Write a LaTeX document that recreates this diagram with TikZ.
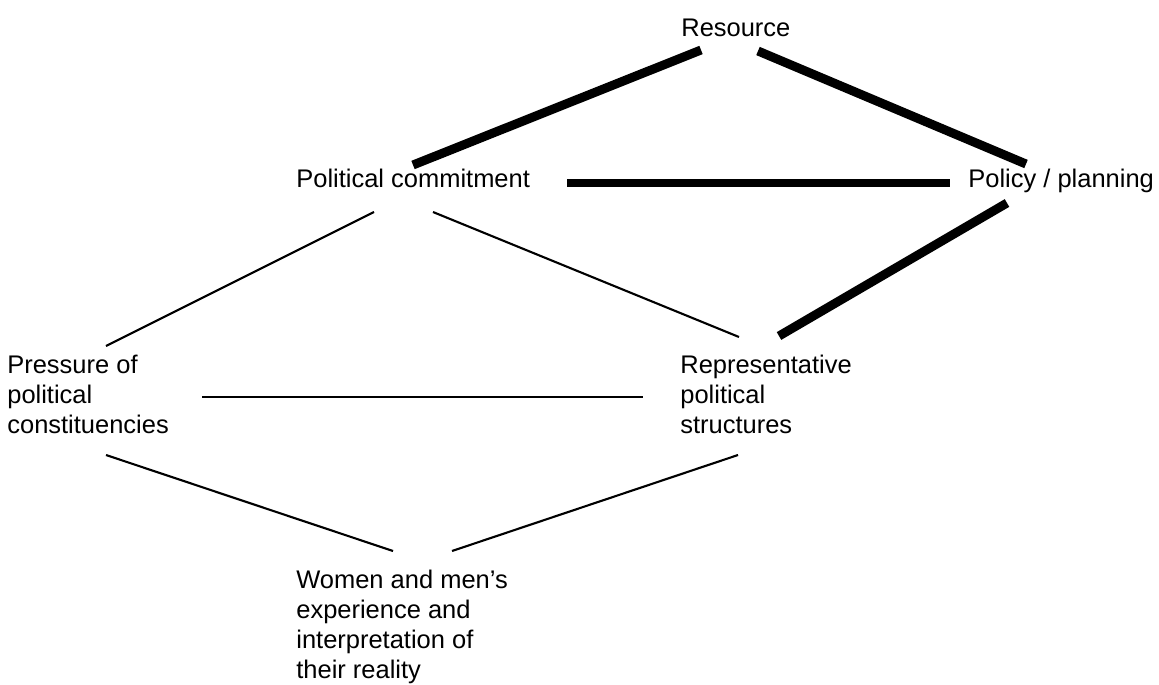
\documentclass[tikz,border=0pt]{standalone}
\usepackage{fontspec}
\setmainfont{Liberation Sans}
\usetikzlibrary{calc}

\begin{document}
\begin{tikzpicture}[x=0.02cm, y=-0.02cm,
	txt/.style={anchor=base west, inner sep=0pt, align=left, font=\fontsize{14.5}{17.07}\selectfont},
	link/.style={line width=1.2pt},
	heavy/.style={line width=5.1pt}]
	\useasboundingbox (0,0) rectangle (1159,684);

	% Boxes of the diagram (base = last line)
	\node[txt] (res) at (681, 36) {Resource};
	\node[txt] (pol) at (296, 187) {Political commitment};
	\node[txt] (pla) at (968, 187) {Policy / planning};
	\node[txt] (pre) at (7, 433) {Pressure of\\political\\constituencies};
	\node[txt] (rep) at (680, 433) {Representative\\political\\structures};
	\node[txt] (wom) at (296, 678) {Women and men’s\\experience and\\interpretation of\\their reality};

	% Heavy links at the top
	\draw[heavy] ($(res.base west)+(20,14)$) -- ($(pol.base west)+(117,-22)$);
	\draw[heavy] ($(res.base west)+(77,15)$) -- ($(pla.base west)+(58,-23)$);
	\draw[heavy] ($(pol.base west)+(271,-4)$) -- ($(pla.base west)+(-18,-4)$);
	\draw[heavy] ($(pla.base west)+(39,16)$) -- ($(rep.base west)+(99,-97)$);

	% Thin links below
	\draw[link] ($(pol.base west)+(78,25)$) -- ($(pre.base west)+(99,-87)$);
	\draw[link] ($(pol.base west)+(137,25)$) -- ($(rep.base west)+(59,-96)$);
	\draw[link] ($(pre.base west)+(195,-36)$) -- ($(rep.base west)+(-37,-36)$);
	\draw[link] ($(pre.base west)+(99,22)$) -- ($(wom.base west)+(97,-127)$);
	\draw[link] ($(rep.base west)+(58,22)$) -- ($(wom.base west)+(156,-127)$);
\end{tikzpicture}
\end{document}
